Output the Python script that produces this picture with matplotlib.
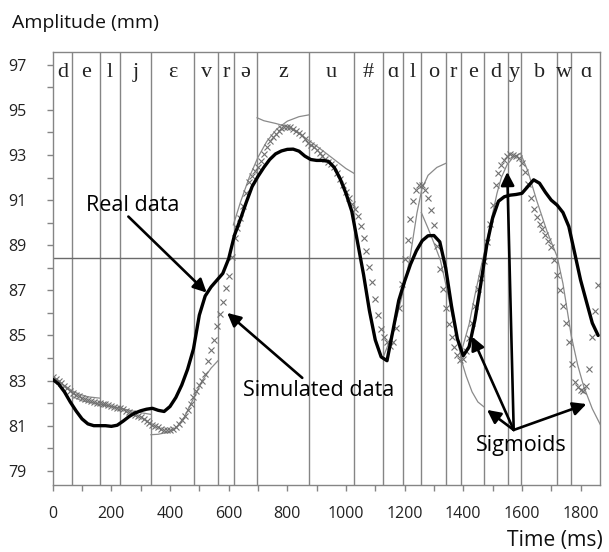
import numpy as np
import matplotlib
matplotlib.use("Agg")
import matplotlib.pyplot as plt
from matplotlib.ticker import MultipleLocator

# ---------------- data ----------------
segment_bounds = [66, 161, 230, 334, 482, 565, 617, 697, 874, 1027, 1126,
                  1195, 1257, 1341, 1394, 1470, 1553, 1596, 1721, 1768]
phonemes = ["d", "e", "l", "j", "ɛ", "v", "r", "ə", "z", "u", "#", "ɑ", "l",
            "o", "r", "e", "d", "y", "b", "w", "ɑ"]
threshold_level = 88.45

real_t = [0, 20, 40, 60, 80, 100, 120, 140, 160, 180, 200, 220, 240, 260, 280,
          300, 320, 340, 360, 380, 400, 420, 440, 460, 480, 500, 520, 540, 560,
          580, 600, 620, 640, 660, 680, 700, 720, 740, 760, 780, 800, 820, 840,
          860, 880, 900, 920, 940, 960, 980, 1000, 1020, 1040, 1060, 1080, 1100,
          1120, 1140, 1160, 1180, 1200, 1220, 1240, 1260, 1280, 1300, 1320,
          1340, 1360, 1380, 1400, 1420, 1440, 1460, 1480, 1500, 1520, 1540,
          1560, 1580, 1600, 1620, 1640, 1660, 1680, 1700, 1720, 1740, 1760,
          1780, 1800, 1820, 1840, 1860]
real_v = [83.05, 82.85, 82.5, 82.05, 81.65, 81.3, 81.08, 81.0, 81.0, 81.0,
          80.97, 81.02, 81.2, 81.4, 81.56, 81.66, 81.73, 81.77, 81.68, 81.63,
          81.85, 82.25, 82.8, 83.5, 84.4, 85.9, 86.75, 87.15, 87.45, 87.75,
          88.4, 89.45, 90.15, 90.9, 91.6, 92.05, 92.45, 92.8, 93.05, 93.18,
          93.25, 93.26, 93.17, 92.95, 92.8, 92.76, 92.76, 92.72, 92.45, 91.95,
          91.3, 90.5, 89.1, 87.7, 86.1, 84.8, 84.05, 83.88, 85.2, 86.55, 87.4,
          88.15, 88.75, 89.2, 89.42, 89.43, 89.15, 88.0, 86.3, 84.85, 84.1,
          84.5, 85.7, 87.3, 89.0, 90.2, 90.95, 91.15, 91.22, 91.25, 91.3, 91.6,
          91.9, 91.75, 91.35, 91.0, 90.78, 90.45, 89.83, 88.65, 87.46, 86.5,
          85.55, 85.0]

sim_t = list(range(0, 1870, 10))
sim_v = [83.17, 83.08, 82.98, 82.88, 82.78, 82.66, 82.54, 82.44, 82.37, 82.30,
         82.23, 82.17, 82.12, 82.08, 82.05, 82.02, 82.00, 81.97, 81.94, 81.91,
         81.88, 81.84, 81.80, 81.77, 81.72, 81.66, 81.61, 81.55, 81.49, 81.43,
         81.38, 81.30, 81.21, 81.12, 81.04, 80.98, 80.92, 80.87, 80.83, 80.81,
         80.82, 80.87, 80.95, 81.08, 81.25, 81.45, 81.70, 81.98, 82.29, 82.55,
         82.79, 83.0, 83.3, 83.85, 84.35, 84.82, 85.40, 85.95, 86.5, 87.1,
         87.65, 88.5, 89.3, 89.75, 90.2, 90.75, 91.3, 91.8, 92.05, 92.3,
         92.48, 92.75, 93.05, 93.35, 93.6, 93.8, 93.95, 94.08, 94.18, 94.24,
         94.26, 94.23, 94.17, 94.08, 93.99, 93.88, 93.7, 93.53, 93.43, 93.36,
         93.24, 93.1, 92.96, 92.82, 92.7, 92.58, 92.45, 92.22, 91.95, 91.65,
         91.38, 91.1, 90.85, 90.6, 90.3, 89.85, 89.3, 88.75, 88.05, 87.35,
         86.6, 85.9, 85.3, 84.95, 84.7, 84.55, 84.7, 85.35, 86.2, 87.3,
         88.4, 89.25, 90.15, 90.95, 91.45, 91.65, 91.66, 91.45, 91.1, 90.55,
         89.9, 88.95, 87.95, 87.05, 86.2, 85.5, 84.95, 84.5, 84.15, 83.92,
         83.95, 84.3, 84.9, 85.55, 86.3, 87.05, 87.55, 88.3, 89.15, 89.95,
         90.8, 91.65, 92.2, 92.55, 92.8, 92.95, 93.05, 93.02, 92.95, 92.85,
         92.65, 92.25, 91.7, 91.1, 90.6, 90.25, 89.95, 89.7, 89.45, 89.2,
         88.9, 88.35, 87.7, 87.0, 86.3, 85.55, 84.7, 83.75, 82.95, 82.7,
         82.6, 82.55, 82.75, 83.5, 84.95, 86.1, 87.24]

sig1_t = [0, 20, 40, 66, 90, 120, 161]
sig1_v = [83.2, 82.98, 82.78, 82.55, 82.4, 82.28, 82.22]
sig2_t = [66, 100, 161, 231, 290, 335]
sig2_v = [82.3, 82.1, 81.95, 81.77, 81.6, 81.5]
sig3_t = [335, 360, 390, 420, 450, 480, 510, 540, 565]
sig3_v = [80.6, 80.62, 80.7, 80.9, 81.4, 82.2, 83.0, 83.55, 83.9]
sig4_t = [616, 640, 670, 700, 730, 764, 800, 840, 874]
sig4_v = [89.9, 90.9, 92.0, 92.9, 93.6, 94.15, 94.5, 94.7, 94.78]
sig5_t = [697, 720, 760, 799, 840, 878, 920, 960, 1000, 1027]
sig5_v = [94.65, 94.52, 94.4, 94.26, 93.95, 93.6, 93.2, 92.8, 92.4, 92.19]
sig6_t = [1126, 1150, 1175, 1196, 1219, 1242, 1259, 1280, 1310, 1342]
sig6_v = [84.0, 84.8, 85.9, 87.0, 88.5, 90.42, 91.5, 92.1, 92.45, 92.64]
sig7_t = [1257, 1280, 1300, 1322, 1345, 1360, 1378, 1395, 1410, 1430, 1450, 1470]
sig7_v = [90.45, 89.75, 89.1, 88.34, 87.0, 86.0, 84.95, 83.84, 83.2, 82.5, 82.05, 81.84]
sig8_t = [1394, 1420, 1440, 1460, 1481, 1500, 1515, 1530, 1549, 1570, 1596]
sig8_v = [84.3, 85.5, 86.8, 88.0, 89.2, 90.4, 91.3, 92.0, 92.56, 92.9, 93.08]
sig9_t = [1596, 1620, 1650, 1686, 1720, 1740, 1758, 1768, 1790, 1811, 1840, 1868]
sig9_v = [93.05, 92.3, 91.0, 89.6, 88.5, 87.3, 85.83, 85.0, 83.7, 82.73, 81.75, 81.03]
sigmoid_t = [sig1_t, sig2_t, sig3_t, sig4_t, sig5_t, sig6_t, sig7_t, sig8_t, sig9_t]
sigmoid_v = [sig1_v, sig2_v, sig3_v, sig4_v, sig5_v, sig6_v, sig7_v, sig8_v, sig9_v]

x_ticks = [0, 200, 400, 600, 800, 1000, 1200, 1400, 1600, 1800]
y_ticks = [79, 81, 83, 85, 87, 89, 91, 93, 95, 97]

# ---------------- figure ----------------
W, H = 609, 552
fig = plt.figure(figsize=(W / 100, H / 100), dpi=100)
L, R, T, B = 52.7, 600.5, 51.7, 485.0
ax = fig.add_axes([L / W, 1 - B / H, (R - L) / W, (B - T) / H])
ax.set_xlim(0, 1868)
ax.set_ylim(78.37, 97.58)

grey = "#858585"
for s in ax.spines.values():
    s.set_color(grey)
    s.set_linewidth(1.0)

for xb in segment_bounds:
    ax.axvline(xb, color=grey, lw=1.0, zorder=1)
ax.axhline(threshold_level, color="#6a6a6a", lw=1.0, zorder=1)

edges = [0] + segment_bounds + [1868]
for i, ph in enumerate(phonemes):
    xc = (edges[i] + edges[i + 1]) / 2
    ax.text(xc, 96.48, ph, ha="center", va="baseline", fontsize=16,
            family=["Liberation Serif", "DejaVu Serif"], color="#222222", zorder=3)

for st, sv in zip(sigmoid_t, sigmoid_v):
    ax.plot(st, sv, color="#8a8a8a", lw=0.9, zorder=2)

ax.plot(sim_t, sim_v, linestyle="none", marker="x", markersize=4.2,
        markeredgewidth=0.8, color="#707070", zorder=3)
ax.plot(real_t, real_v, color="black", lw=2.4, zorder=4, solid_capstyle="round")

# ticks
ax.xaxis.set_major_locator(MultipleLocator(200))
ax.xaxis.set_minor_locator(MultipleLocator(100))
ax.yaxis.set_major_locator(MultipleLocator(2))
ax.yaxis.set_minor_locator(MultipleLocator(1))
ax.set_xticks(x_ticks)
ax.set_yticks(y_ticks)
ax.tick_params(which="both", direction="out", length=4.5, width=1.0, color=grey)
ax.tick_params(axis="x", which="major", pad=10.5, labelsize=11.5)
ax.tick_params(axis="y", which="major", pad=14.5, labelsize=11.5)
for lab in ax.get_xticklabels() + ax.get_yticklabels():
    lab.set_family("Open Sans")
    lab.set_color("#222222")

font = "Open Sans"
fig.text(12 / W, 1 - 28 / H, "Amplitude (mm)", fontsize=14, family=font,
         ha="left", va="baseline", color="#111111")
fig.text(603 / W, 1 - 546 / H, "Time (ms)", fontsize=15.2, family=font,
         ha="right", va="baseline", color="#111111")

ap = dict(arrowstyle="-|>", lw=1.9, color="black", mutation_scale=20,
          shrinkA=0, shrinkB=0)
ax.text(274, 90.74, "Real data", fontsize=15.5, family=font, ha="center",
        va="center", zorder=6)
ax.annotate("", xy=(525, 86.9), xytext=(258, 90.27), arrowprops=ap, zorder=6)
ax.text(906, 82.58, "Simulated data", fontsize=15.5, family=font, ha="center",
        va="center", zorder=6)
ax.annotate("", xy=(595, 86.0), xytext=(851, 83.12), arrowprops=ap, zorder=6)
ax.text(1598, 80.1, "Sigmoids", fontsize=15.5, family=font, ha="center",
        va="center", zorder=6)
src = (1572, 80.81)
for head in [(1430, 84.95), (1550, 92.25), (1481, 81.70), (1820, 81.96)]:
    ax.annotate("", xy=head, xytext=src, arrowprops=ap, zorder=6)

fig.savefig("out.png", dpi=100)
